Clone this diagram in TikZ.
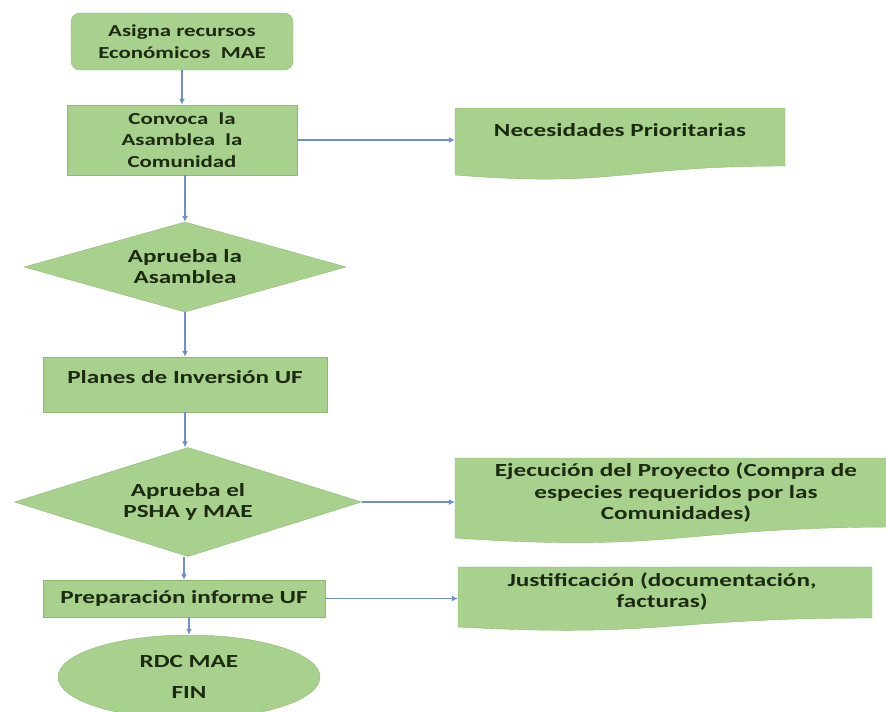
\documentclass[tikz,border=0pt]{standalone}
\usepackage{fontspec}
\setmainfont{Carlito}[FakeStretch=1.36]
\usetikzlibrary{shapes.geometric, arrows.meta}
\definecolor{boxgreen}{HTML}{A9D18E}
\definecolor{boxline}{HTML}{8FB874}
\definecolor{flowblue}{HTML}{6F8FC8}
\definecolor{boxtext}{HTML}{1C2A12}
\tikzset{
  flow node/.style={
    draw=boxline,
    fill=boxgreen,
    text=boxtext,
    font=\bfseries\fontsize{18.5}{21}\selectfont,
    align=center,
    inner sep=0pt,
  },
  small text/.style={
    font=\bfseries\fontsize{16.8}{21.5}\selectfont,
  },
  doc text/.style={
    text=boxtext,
    font=\bfseries\fontsize{18.5}{21.5}\selectfont,
    align=center,
    inner sep=0pt,
  },
  doc shape/.style={draw=boxline, fill=boxgreen},
  flow/.style={draw=flowblue, line width=1.1pt, -{Latex[length=6pt,width=6pt]}},
}

\begin{document}
\begin{tikzpicture}[x=1pt, y=-1pt]
      \useasboundingbox (0,0) rectangle (886,712);

      \draw[doc shape] (455,108) -- (785,108) -- (785,166) .. controls (620,166) and (620,188) .. (455,175) -- cycle;
      \draw[doc shape] (455,458) -- (900,458) -- (900,527) .. controls (677,527) and (677,553) .. (455,538) -- cycle;
      \draw[doc shape] (458,567) -- (872,567) -- (872,618) .. controls (665,618) and (665,638) .. (458,627) -- cycle;

      \node[flow node, small text, rounded corners=9pt, minimum width=222pt, minimum height=57pt] (asigna) at (182,41.5) {Asigna recursos\\Económicos\ \ MAE};
      \node[flow node, small text, minimum width=230pt, minimum height=70pt] (convoca) at (182,140) {Convoca\ \ la\\Asamblea\ \ la\\Comunidad};
      \node[doc text, minimum width=330pt] (necesidades) at (620,130) {Necesidades Prioritarias};
      \node[flow node, diamond, aspect=3.5, minimum width=322pt, minimum height=90pt] (aprueba1) at (185,267) {Aprueba la\\Asamblea};
      \node[flow node, minimum width=284pt, minimum height=55pt, text depth=15pt] (planes) at (185,384.5) {Planes de Inversión UF};
      \node[flow node, diamond, aspect=3.2, minimum width=347pt, minimum height=109pt] (aprueba2) at (188,502) {Aprueba el\\PSHA y MAE};
      \node[doc text, minimum width=442pt] (ejecucion) at (676,493) {Ejecución del Proyecto (Compra de\\especies requeridos por las\\Comunidades)};
      \node[flow node, minimum width=282pt, minimum height=37pt] (preparacion) at (184,598.5) {Preparación informe UF};
      \node[doc text, minimum width=408pt] (justificacion) at (662,591.5) {Justificación (documentación,\\facturas)};
      \node[flow node, ellipse, minimum width=262pt, minimum height=84pt] (fin) at (189,677) {RDC MAE\\[10pt]FIN};

      \draw[flow] (asigna) -- (asigna |- convoca.north);
      \draw[flow] (convoca.south -| aprueba1.north) -- (aprueba1.north);
      \draw[flow] (aprueba1) -- (aprueba1 |- planes.north);
      \draw[flow] (planes.south) -- (aprueba2.north -| planes.south);
      \draw[flow] (aprueba2.south -| preparacion.north) -- (preparacion.north);
      \draw[flow] (preparacion.south -| fin.north) -- (fin.north);

      \draw[flow] (convoca.east) -- (convoca.east -| necesidades.west);
      \draw[flow] (aprueba2.east) -- (aprueba2.east -| ejecucion.west);
      \draw[flow] (preparacion.east) -- (preparacion.east -| justificacion.west);
    \end{tikzpicture}
\end{document}
